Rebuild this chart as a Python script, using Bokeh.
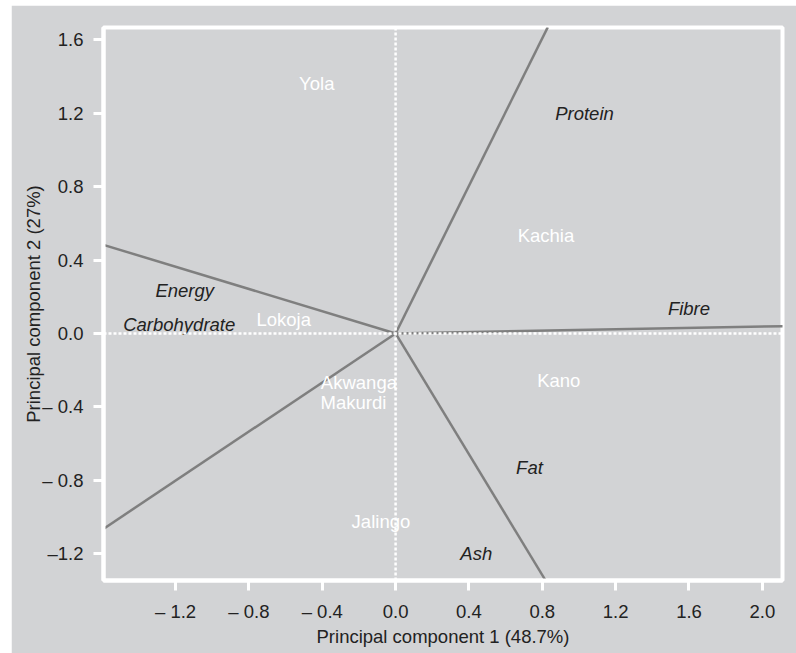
from bokeh.plotting import figure
from bokeh.models import ColumnDataSource, FixedTicker, Span
from bokeh.core.properties import value
from bokeh.embed import file_html
from bokeh.resources import INLINE

# Variable loading vectors (end points of the lines from the origin)
var_names = ["Protein", "Energy", "Fibre", "Ash", "Carbohydrate"]
vec_x = [0.83, -1.60, 2.12, 0.82, -1.60]
vec_y = [1.67, 0.485, 0.04, -1.35, -1.07]

# Variable label positions
lab_names = ["Protein", "Energy", "Carbohydrate", "Fibre", "Fat", "Ash"]
lab_x = [1.03, -1.15, -1.18, 1.60, 0.73, 0.44]
lab_y = [1.20, 0.235, 0.05, 0.135, -0.73, -1.20]

# Site scores
sites = ["Yola", "Kachia", "Lokoja", "Kano", "Akwanga", "Makurdi", "Jalingo"]
site_x = [-0.43, 0.82, -0.61, 0.89, -0.20, -0.23, -0.08]
site_y = [1.363, 0.534, 0.076, -0.256, -0.27, -0.376, -1.025]

x_ticks = [-1.2, -0.8, -0.4, 0.0, 0.4, 0.8, 1.2, 1.6, 2.0]
x_tick_labels = ["\u2013 1.2", "\u2013 0.8", "\u2013 0.4", "0.0", "0.4", "0.8", "1.2", "1.6", "2.0"]
y_ticks = [-1.2, -0.8, -0.4, 0.0, 0.4, 0.8, 1.2, 1.6]
y_tick_labels = ["\u20131.2", "\u2013 0.8", "\u2013 0.4", "0.0", "0.4", "0.8", "1.2", "1.6"]

BG = "#d2d3d5"
FONT = "Liberation Sans"
FS = "18.5px"

p = figure(width=785, height=648, x_range=(-1.593, 2.11), y_range=(-1.347, 1.668),
           output_backend="svg", toolbar_location=None,
           background_fill_color=BG, border_fill_color=BG,
           min_border_left=92, min_border_right=14, min_border_top=22, min_border_bottom=73)
p.margin = (5, 0, 0, 11)
p.grid.visible = False
p.outline_line_color = "white"
p.outline_line_width = 4

for ax in (p.xaxis[0], p.yaxis[0]):
    ax.axis_line_color = "white"
    ax.axis_line_width = 4
    ax.major_tick_line_color = "white"
    ax.major_tick_line_width = 3
    ax.major_tick_out = 10
    ax.major_tick_in = 0
    ax.minor_tick_line_color = None
    ax.major_label_text_font = FONT
    ax.major_label_text_font_size = FS
    ax.major_label_text_color = "#222222"
    ax.axis_label_text_font = FONT
    ax.axis_label_text_font_size = FS
    ax.axis_label_text_font_style = "normal"
    ax.axis_label_text_color = "#222222"

p.xaxis.ticker = FixedTicker(ticks=x_ticks)
p.xaxis.major_label_overrides = {t: l for t, l in zip(x_ticks, x_tick_labels)}
p.yaxis.ticker = FixedTicker(ticks=y_ticks)
p.yaxis.major_label_overrides = {t: l for t, l in zip(y_ticks, y_tick_labels)}
p.xaxis.axis_label = "Principal component 1 (48.7%)"
p.yaxis.axis_label = "Principal component 2 (27%)"
p.xaxis.major_label_standoff = 10
p.yaxis.major_label_standoff = 10
p.xaxis.axis_label_standoff = 1
p.yaxis.axis_label_standoff = -5

# dotted zero lines
p.add_layout(Span(location=0, dimension="width", line_color="white", line_width=2.5, line_dash="3 2"))
p.add_layout(Span(location=0, dimension="height", line_color="white", line_width=2.5, line_dash="3 2"))

vsrc = ColumnDataSource(dict(x0=[0.0] * len(vec_x), y0=[0.0] * len(vec_y), x1=vec_x, y1=vec_y, name=var_names))
p.segment(x0="x0", y0="y0", x1="x1", y1="y1", source=vsrc, line_color="#7f7f7f", line_width=2.5)

lsrc = ColumnDataSource(dict(x=lab_x, y=lab_y, t=lab_names))
p.text(x="x", y="y", text="t", source=lsrc, text_font=value(FONT), text_font_size=FS,
       text_font_style="italic", text_color="#222222", text_align="center", text_baseline="middle")

ssrc = ColumnDataSource(dict(x=site_x, y=site_y, t=sites))
p.text(x="x", y="y", text="t", source=ssrc, text_font=value(FONT), text_font_size=FS,
       text_color="white", text_align="center", text_baseline="middle")

open("out.html", "w").write(file_html(p, INLINE))
